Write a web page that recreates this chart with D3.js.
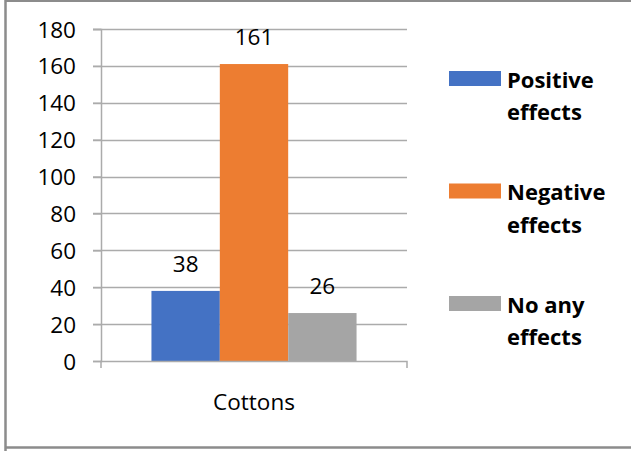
<!DOCTYPE html>
<html><head><meta charset="utf-8">
<script src="https://cdn.jsdelivr.net/npm/d3@7"></script>
<style>html,body{margin:0;padding:0;background:#fff;}svg{display:block;}</style>
</head><body>
<svg id="c" width="631" height="451"></svg>
<script>
const categories = ["Cottons"];
const seriesNames = ["Positive effects", "Negative effects", "No any effects"];
const legendLines = [["Positive", "effects"], ["Negative", "effects"], ["No any", "effects"]];
const seriesValues = [[38], [161], [26]];
const seriesColors = ["#4472C4", "#ED7D31", "#A5A5A5"];
const yTicks = [0, 20, 40, 60, 80, 100, 120, 140, 160, 180];

const svg = d3.select("#c");
const font = "'Open Sans', 'Noto Sans', sans-serif";
const fs = 22.5;

// chart border
svg.append("path").attr("d", "M5.5,451 V0.8 H640 M5.5,447.5 H640")
  .attr("fill", "none").attr("stroke", "#8c8c8c").attr("stroke-width", 2.5);

const y = d3.scaleLinear().domain([0, 180]).range([361, 29]);
const x0 = d3.scaleBand().domain(categories).range([101, 407]).paddingOuter(0.246).paddingInner(0);
const x1 = d3.scaleBand().domain(seriesNames).range([0, x0.bandwidth()]).padding(0);

// gridlines
svg.append("g").selectAll("line").data(yTicks.filter(d => d > 0)).join("line")
  .attr("x1", 93).attr("x2", 407)
  .attr("y1", d => Math.round(y(d)) + 0.5).attr("y2", d => Math.round(y(d)) + 0.5)
  .attr("stroke", "#ababab").attr("stroke-width", 1.5);

// y axis
const yAxis = svg.append("g").attr("transform", "translate(101,0)")
  .call(d3.axisLeft(y).tickValues(yTicks).tickSize(8).tickPadding(17));
yAxis.select(".domain").attr("stroke", "#ababab").attr("stroke-width", 1.5);
yAxis.selectAll(".tick line").attr("stroke", "#ababab").attr("stroke-width", 1.5);
yAxis.selectAll(".tick text").attr("font-family", font).attr("font-size", fs)
  .attr("fill", "#000").attr("dy", "0.36em");

// bars
const bars = svg.append("g");
seriesNames.forEach((s, i) => {
  bars.selectAll(null).data(categories).join("rect")
    .attr("x", c => x0(c) + x1(s))
    .attr("y", (c, j) => y(seriesValues[i][j]))
    .attr("width", x1.bandwidth())
    .attr("height", (c, j) => y(0) - y(seriesValues[i][j]))
    .attr("fill", seriesColors[i]);
  bars.selectAll(null).data(categories).join("text")
    .attr("x", c => x0(c) + x1(s) + x1.bandwidth() / 2)
    .attr("y", (c, j) => y(seriesValues[i][j]) - 19)
    .attr("text-anchor", "middle")
    .attr("font-family", font).attr("font-size", fs).attr("fill", "#000")
    .text((c, j) => seriesValues[i][j]);
});

// x axis
const xAxis = svg.append("g").attr("transform", "translate(0,361)")
  .call(d3.axisBottom(x0).tickSize(0).tickPadding(34));
xAxis.select(".domain").remove();
svg.append("path").attr("d", "M101,368 V361.5 H407 V368")
  .attr("fill", "none").attr("stroke", "#ababab").attr("stroke-width", 1.5);
xAxis.selectAll(".tick text").attr("font-family", font).attr("font-size", fs)
  .attr("fill", "#000").attr("dy", "0.71em").attr("y", 33);

// legend
const lg = svg.append("g");
seriesNames.forEach((s, i) => {
  const top = 71 + i * 112.5;
  lg.append("rect").attr("x", 449).attr("y", top).attr("width", 52).attr("height", 15)
    .attr("fill", seriesColors[i]);
  const t = lg.append("text").attr("x", 507).attr("y", top + 16.5)
    .attr("font-family", font).attr("font-size", 22).attr("font-weight", "bold").attr("fill", "#000");
  legendLines[i].forEach((ln, k) => {
    t.append("tspan").attr("x", 507).attr("dy", k === 0 ? 0 : 32.5).text(ln);
  });
});
</script>
</body></html>
